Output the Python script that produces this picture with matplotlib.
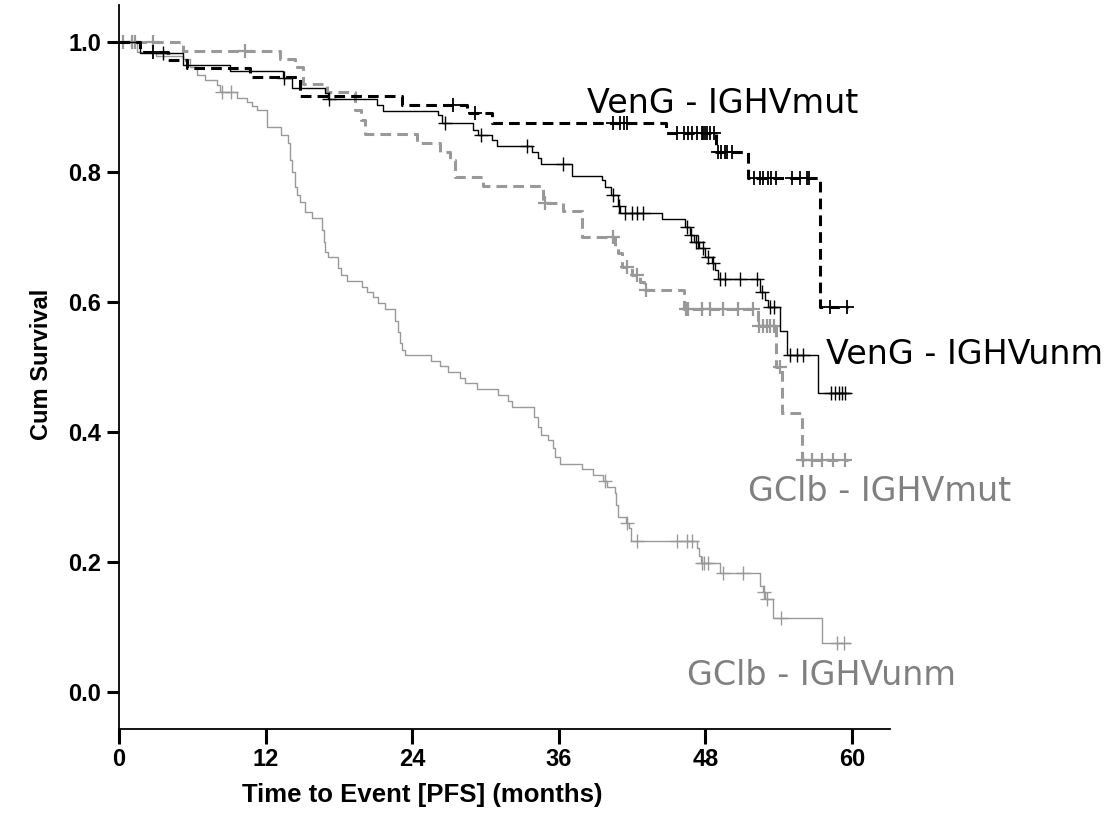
import numpy as np
import matplotlib
matplotlib.use("Agg")
import matplotlib.pyplot as plt
from matplotlib import font_manager

# Kaplan-Meier curves (event times in months, survival after each event)
# VenG - IGHVmut (black dashed)
vmut_t = [1.7, 4.0, 5.6, 10.7, 14.8, 23.2, 28.5, 30.5, 44.8, 48.9, 51.5, 57.4]
vmut_s = [0.985, 0.972, 0.960, 0.946, 0.917, 0.903, 0.891, 0.875, 0.860, 0.831, 0.791, 0.592]
vmut_cens = [2.8, 27.3, 29.1, 40.4, 41.0, 41.3, 41.6, 45.7, 46.2, 46.6, 46.9, 47.3, 47.7,
             47.8, 48.0, 48.1, 48.4, 48.7, 49.0, 49.3, 49.6, 49.8, 50.2, 52.0, 52.5, 52.7,
             53.1, 53.4, 53.8, 55.1, 55.7, 56.3, 56.5, 58.2, 59.6]
vmut_end = 59.7

# VenG - IGHVunm (black solid)
vunm_t = [1.7, 5.2, 9.1, 13.4, 14.2, 16.9, 17.1, 21.1, 21.6, 26.1, 26.4, 29.0, 29.4, 30.5,
          30.9, 33.8, 34.3, 34.5, 37.1, 39.5, 39.8, 40.3, 40.8, 41.0, 44.4, 46.3, 46.7,
          47.1, 47.5, 48.0, 48.5, 48.8, 49.0, 52.5, 52.9, 53.1, 54.1, 54.7, 57.2]
vunm_s = [0.983, 0.965, 0.955, 0.945, 0.929, 0.922, 0.912, 0.903, 0.894, 0.888, 0.875,
          0.865, 0.857, 0.849, 0.840, 0.831, 0.822, 0.812, 0.794, 0.788, 0.777, 0.765,
          0.748, 0.737, 0.728, 0.715, 0.703, 0.692, 0.683, 0.669, 0.660, 0.649, 0.635,
          0.615, 0.603, 0.592, 0.555, 0.518, 0.460]
vunm_cens = [3.6, 13.5, 17.2, 26.7, 29.6, 33.4, 36.3, 40.4, 40.9, 41.4, 42.0, 42.4, 42.9,
             46.5, 46.8, 47.2, 47.4, 47.8, 48.2, 48.6, 49.2, 49.6, 50.8, 52.2, 52.6, 53.3,
             53.6, 54.9, 55.5, 56.0, 58.3, 58.6, 58.9, 59.2, 59.4]
vunm_end = 59.8

# GClb - IGHVmut (grey dashed)
gmut_t = [5.2, 13.2, 14.4, 15.1, 17.0, 19.3, 19.8, 20.1, 24.4, 26.3, 27.1, 27.5, 29.8,
          34.7, 36.3, 37.9, 40.6, 40.8, 41.2, 42.0, 42.6, 43.0, 46.2, 52.3, 53.8, 54.3, 55.9]
gmut_s = [0.986, 0.974, 0.962, 0.935, 0.923, 0.895, 0.880, 0.858, 0.845, 0.831, 0.818,
          0.792, 0.778, 0.752, 0.740, 0.700, 0.685, 0.675, 0.654, 0.642, 0.631, 0.618,
          0.589, 0.563, 0.500, 0.429, 0.357]
gmut_cens = [0.3, 1.1, 1.3, 2.8, 10.3, 34.9, 40.4, 41.6, 42.4, 43.1, 46.4, 46.6, 47.7,
             48.4, 49.4, 50.7, 51.9, 52.4, 52.7, 53.0, 53.3, 53.6, 54.1, 56.0, 56.7, 57.5,
             58.4, 59.4]
gmut_end = 59.7

# GClb - IGHVunm (grey solid)
gunm_t = [1.5, 3.0, 5.2, 5.8, 6.4, 7.0, 8.0, 8.3, 9.7, 10.5, 10.9, 11.3, 12.1, 13.3, 13.8,
          14.0, 14.2, 14.4, 14.6, 14.8, 15.2, 15.8, 16.6, 16.8, 16.9, 17.1, 17.9, 18.2,
          18.7, 19.9, 20.3, 20.8, 21.2, 21.8, 22.6, 22.8, 23.0, 23.2, 23.4, 25.5, 26.3,
          26.9, 27.9, 28.3, 29.3, 31.0, 31.8, 32.2, 34.0, 34.3, 34.5, 35.1, 35.5, 35.7,
          36.1, 37.9, 38.8, 39.6, 39.9, 40.6, 40.7, 40.8, 41.5, 41.7, 41.9, 47.3, 47.5,
          47.6, 49.2, 52.5, 52.7, 52.9, 53.5, 57.5]
gunm_s = [0.985, 0.978, 0.974, 0.962, 0.949, 0.942, 0.934, 0.923, 0.914, 0.908, 0.902,
          0.895, 0.869, 0.857, 0.845, 0.818, 0.800, 0.777, 0.765, 0.754, 0.738, 0.729,
          0.711, 0.692, 0.677, 0.669, 0.652, 0.642, 0.632, 0.623, 0.615, 0.608, 0.598,
          0.589, 0.571, 0.554, 0.537, 0.526, 0.518, 0.509, 0.502, 0.492, 0.483, 0.475,
          0.466, 0.457, 0.448, 0.438, 0.423, 0.408, 0.395, 0.388, 0.375, 0.362, 0.351,
          0.343, 0.334, 0.325, 0.315, 0.306, 0.288, 0.269, 0.260, 0.252, 0.232, 0.222,
          0.209, 0.198, 0.183, 0.163, 0.154, 0.143, 0.114, 0.075]
gunm_cens = [8.4, 9.2, 39.8, 41.6, 42.4, 45.7, 46.5, 46.9, 47.7, 47.9, 48.2, 49.4, 51.1,
             52.8, 53.0, 54.2, 58.8, 59.3]
gunm_end = 59.8

labels = ["VenG - IGHVmut", "VenG - IGHVunm", "GClb - IGHVmut", "GClb - IGHVunm"]
label_pos = [(38.3, 0.906), (57.9, 0.52), (51.5, 0.308), (46.5, 0.025)]

BLACK = "black"
GREY = "#999999"
TXT_GREY = "#808080"

installed = {f.name for f in font_manager.fontManager.ttflist}
if "Liberation Sans Narrow" in installed:
    NARROW = ["Liberation Sans Narrow", "DejaVu Sans"]
    xt_size, xl_size = 19, 21
else:
    NARROW = ["Liberation Sans", "DejaVu Sans"]
    xt_size, xl_size = 17, 18.5
SANS = ["Liberation Sans", "DejaVu Sans"]


def km_line(ax, t, s, cens, end, color, lw, dashed, mew):
    tt = np.concatenate([[0.0], t, [end]])
    ss = np.concatenate([[1.0], s, [s[-1]]])
    line, = ax.step(tt, ss, where="post", color=color, lw=lw)
    if dashed:
        line.set_dashes((3.5, 2.0))
    # survival at censor times from the step function
    idx = np.searchsorted(tt, cens, side="right") - 1
    ax.plot(cens, ss[idx], ls="none", marker="+", ms=10, mew=mew, color=color)


fig = plt.figure(figsize=(11.16, 8.24), dpi=100)
ax = fig.add_axes([0.1066, 0.1153, 0.6909, 0.8786])

km_line(ax, gunm_t, gunm_s, gunm_cens, gunm_end, GREY, 1.0, False, 1.0)
km_line(ax, gmut_t, gmut_s, gmut_cens, gmut_end, GREY, 2.2, True, 1.6)
km_line(ax, vunm_t, vunm_s, vunm_cens, vunm_end, BLACK, 1.0, False, 1.0)
km_line(ax, vmut_t, vmut_s, vmut_cens, vmut_end, BLACK, 2.2, True, 1.3)

colors = [BLACK, BLACK, TXT_GREY, TXT_GREY]
for lab, (x, y), c in zip(labels, label_pos, colors):
    ax.text(x, y, lab, color=c, fontsize=24, va="center", ha="left",
            family="DejaVu Sans", clip_on=False)

ax.set_xlim(0, 63.1)
ax.set_ylim(-0.057, 1.057)
ax.set_xticks([0, 12, 24, 36, 48, 60])
ax.set_yticks([0.0, 0.2, 0.4, 0.6, 0.8, 1.0])
ax.set_yticklabels(["0.0", "0.2", "0.4", "0.6", "0.8", "1.0"])

for side in ["top", "right"]:
    ax.spines[side].set_visible(False)
for side in ["left", "bottom"]:
    ax.spines[side].set_linewidth(1.3)

ax.tick_params(axis="y", length=9, width=2.2, pad=4)
ax.tick_params(axis="x", length=11, width=2.2, pad=3)
for lbl in ax.get_yticklabels():
    lbl.set_family(SANS)
    lbl.set_fontweight("bold")
    lbl.set_fontsize(17)
for lbl in ax.get_xticklabels():
    lbl.set_family(NARROW)
    lbl.set_fontweight("bold")
    lbl.set_fontsize(xt_size)

ax.set_xlabel("Time to Event [PFS] (months)", fontsize=xl_size, fontweight="bold",
              family=NARROW)
ax.xaxis.set_label_coords(0.393, -0.074)
ax.set_ylabel("Cum Survival", fontsize=17, fontweight="bold", family=SANS)
ax.yaxis.set_label_coords(-0.086, 0.503)

fig.savefig("out.png", dpi=100)
